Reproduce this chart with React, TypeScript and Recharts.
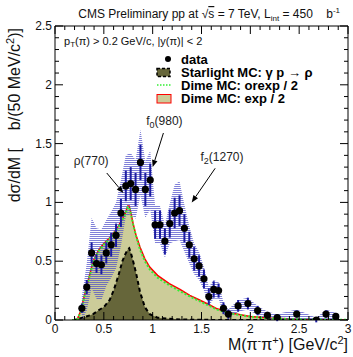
import React from "react";
import {
  ComposedChart,
  XAxis,
  YAxis,
  Area,
  Line,
  Scatter,
  ErrorBar,
  ReferenceLine,
  ReferenceDot,
} from "recharts";

const FONT = "'Liberation Sans', Arial, Helvetica, sans-serif";

// ---- measured data (dσ/dM, μb per 50 MeV) ----
const dataMass = [0.275, 0.325, 0.375, 0.425, 0.475, 0.525, 0.575, 0.625, 0.675, 0.725, 0.775, 0.825, 0.875, 0.925, 0.975, 1.025, 1.075, 1.125, 1.175, 1.225, 1.275, 1.325, 1.375, 1.425, 1.475, 1.525, 1.575, 1.625, 1.675, 1.725, 1.775, 1.875, 1.975, 2.075, 2.175, 2.275, 2.475, 2.675, 2.775, 2.875];
const dataValue = [0.10, 0.28, 0.57, 0.48, 0.47, 0.57, 0.64, 0.72, 0.91, 1.14, 1.16, 1.11, 1.34, 1.11, 1.19, 0.81, 0.81, 0.67, 0.82, 0.91, 0.93, 0.78, 0.64, 0.52, 0.46, 0.35, 0.20, 0.26, 0.25, 0.10, 0.05, 0.12, 0.14, 0.08, 0.04, 0.02, 0.05, 0.0, 0.05, 0.03];
const statError = [0.04, 0.06, 0.09, 0.08, 0.08, 0.09, 0.10, 0.10, 0.12, 0.13, 0.14, 0.14, 0.15, 0.14, 0.14, 0.12, 0.12, 0.11, 0.12, 0.13, 0.13, 0.12, 0.11, 0.10, 0.09, 0.08, 0.07, 0.07, 0.06, 0.05, 0.04, 0.05, 0.05, 0.04, 0.03, 0.03, 0.03, 0.02, 0.03, 0.03];
const systError = [0.10, 0.20, 0.30, 0.30, 0.30, 0.28, 0.28, 0.28, 0.28, 0.26, 0.26, 0.25, 0.28, 0.24, 0.25, 0.16, 0.16, 0.14, 0.17, 0.24, 0.25, 0.20, 0.16, 0.13, 0.12, 0.10, 0.08, 0.08, 0.07, 0.05, 0.04, 0.05, 0.05, 0.04, 0.03, 0.03, 0.04, 0.02, 0.04, 0.03];

// ---- MC predictions ----
const mcMass = [0.18, 0.20, 0.23, 0.26, 0.29, 0.32, 0.36, 0.39, 0.45, 0.50, 0.56, 0.60, 0.65, 0.69, 0.72, 0.745, 0.76, 0.78, 0.80, 0.83, 0.87, 0.92, 0.97, 1.05, 1.17, 1.28, 1.38, 1.48, 1.58, 1.66, 1.80, 2.00, 2.20, 2.50, 2.80, 3.00];
const starlight = [0, 0, 0.008, 0.015, 0.02, 0.03, 0.04, 0.05, 0.085, 0.11, 0.17, 0.25, 0.38, 0.50, 0.56, 0.60, 0.61, 0.56, 0.50, 0.40, 0.24, 0.11, 0.05, 0.02, 0.01, 0.005, 0.003, 0.002, 0.001, 0, 0, 0, 0, 0, 0, 0];
const dimeOrexp = [0, 0, 0.01, 0.06, 0.16, 0.26, 0.39, 0.49, 0.59, 0.64, 0.69, 0.73, 0.79, 0.85, 0.90, 0.96, 0.96, 0.89, 0.81, 0.71, 0.60, 0.50, 0.43, 0.36, 0.295, 0.245, 0.20, 0.16, 0.12, 0.088, 0.055, 0.028, 0.014, 0.005, 0.002, 0.001];
const dimeExp = [0, 0, 0.01, 0.07, 0.17, 0.27, 0.40, 0.50, 0.60, 0.65, 0.70, 0.74, 0.80, 0.86, 0.91, 0.97, 0.97, 0.90, 0.82, 0.72, 0.62, 0.52, 0.45, 0.38, 0.31, 0.26, 0.21, 0.17, 0.13, 0.095, 0.06, 0.03, 0.016, 0.006, 0.002, 0.001];

// ---- axes ----
const xTicks = [0, 0.1, 0.2, 0.3, 0.4, 0.5, 0.6, 0.7, 0.8, 0.9, 1, 1.1, 1.2, 1.3, 1.4, 1.5, 1.6, 1.7, 1.8, 1.9, 2, 2.1, 2.2, 2.3, 2.4, 2.5, 2.6, 2.7, 2.8, 2.9, 3];
const yTicks = [0, 0.1, 0.2, 0.3, 0.4, 0.5, 0.6, 0.7, 0.8, 0.9, 1, 1.1, 1.2, 1.3, 1.4, 1.5, 1.6, 1.7, 1.8, 1.9, 2, 2.1, 2.2, 2.3, 2.4, 2.5];

// ---- annotations (data coordinates) ----
const annotationNames = ["ρ", "f", "f"];
const annotationSubs = ["", "0", "2"];
const annotationMasses = ["(770)", "(980)", "(1270)"];
const annotationTextPos = [
  { x: 0.37, y: 1.32 },
  { x: 1.12, y: 1.66 },
  { x: 1.71, y: 1.35 },
];
const annotationArrows = [
  [{ x: 0.53, y: 1.25 }, { x: 0.70, y: 1.08 }],
  [{ x: 1.11, y: 1.59 }, { x: 1.0, y: 1.30 }],
  [{ x: 1.64, y: 1.29 }, { x: 1.40, y: 1.0 }],
];

const points = dataMass.map((m, i) => ({ m, v: dataValue[i], err: statError[i] }));
const band = dataMass.map((m, i) => ({
  m,
  band: [Math.max(0, dataValue[i] - systError[i]), dataValue[i] + systError[i]],
}));
const mc = mcMass.map((m, i) => ({ m, sl: starlight[i], orexp: dimeOrexp[i], exp: dimeExp[i] }));

const MAJ = 8;
const MIN = 4;
const isMajor = (v: number) => Math.abs(v * 2 - Math.round(v * 2)) < 1e-6;
const fmt = (v: number) => String(Math.round(v * 10) / 10);

const BottomTick = (props: any) => {
  const { x, y, payload } = props;
  const v = payload.value;
  const axisY = y - 4;
  const major = isMajor(v);
  return (
    <g>
      <line x1={x} x2={x} y1={axisY} y2={axisY - (major ? MAJ : MIN)} stroke="#000" />
      {major && (
        <text x={x} y={axisY + 12.5} textAnchor="middle" fontSize={12} fontFamily={FONT} fill="#111">
          {fmt(v)}
        </text>
      )}
    </g>
  );
};
const TopTick = (props: any) => {
  const { x, y, payload } = props;
  const major = isMajor(payload.value);
  return <line x1={x} x2={x} y1={y} y2={y + (major ? MAJ : MIN)} stroke="#000" />;
};
const LeftTick = (props: any) => {
  const { x, y, payload } = props;
  const v = payload.value;
  const axisX = x + 3;
  const major = isMajor(v);
  return (
    <g>
      <line x1={axisX} x2={axisX + (major ? MAJ : MIN)} y1={y} y2={y} stroke="#000" />
      {major && (
        <text x={axisX - 3} y={y + 4} textAnchor="end" fontSize={12} fontFamily={FONT} fill="#111">
          {fmt(v)}
        </text>
      )}
    </g>
  );
};
const RightTick = (props: any) => {
  const { x, y, payload } = props;
  const major = isMajor(payload.value);
  return <line x1={x} x2={x - (major ? MAJ : MIN)} y1={y} y2={y} stroke="#000" />;
};

const Dot = (p: any) => <circle cx={p.cx} cy={p.cy} r={3.6} fill="#000" />;

const Arrow = (p: any) => {
  const { x1, y1, x2, y2 } = p;
  const dx = x2 - x1;
  const dy = y2 - y1;
  const len = Math.sqrt(dx * dx + dy * dy) || 1;
  const ux = dx / len;
  const uy = dy / len;
  const hl = 7;
  const hw = 2.8;
  const bx = x2 - ux * hl;
  const by = y2 - uy * hl;
  return (
    <g>
      <line x1={x1} y1={y1} x2={bx} y2={by} stroke="#000" strokeWidth={1} />
      <polygon
        points={`${x2},${y2} ${bx - uy * hw},${by + ux * hw} ${bx + uy * hw},${by - ux * hw}`}
        fill="#000"
      />
    </g>
  );
};

const makeLabel = (i: number) => (p: any) => (
  <text x={p.cx} y={p.cy} textAnchor="middle" fontSize={12} fontFamily={FONT} fill="#222">
    {annotationNames[i]}
    {annotationSubs[i] && (
      <tspan fontSize={9} dy={3}>
        {annotationSubs[i]}
      </tspan>
    )}
    <tspan dy={annotationSubs[i] ? -3 : 0}>{annotationMasses[i]}</tspan>
  </text>
);

const legendItems = ["data", "Starlight MC: γ p → ρ", "Dime MC: orexp / 2", "Dime MC: exp / 2"];

export default function App() {
  const ax = { xAxisId: "b", yAxisId: "l" };
  return (
    <div style={{ position: "absolute", left: 0, top: 0, width: 353, height: 357, background: "#fff" }}>
      <ComposedChart width={353} height={357} margin={{ top: 25, right: 4, bottom: 7, left: 5 }}>
        <defs>
          <pattern id="hatch" patternUnits="userSpaceOnUse" width={4} height={2}>
            <rect x={0} y={0} width={4} height={1} fill="#4a4ac8" fillOpacity={0.7} />
          </pattern>
        </defs>
        <XAxis
          xAxisId="b"
          dataKey="m"
          type="number"
          domain={[0, 3]}
          ticks={xTicks}
          interval={0}
          tickSize={0}
          tickMargin={4}
          tick={BottomTick}
          tickLine={false}
          height={30}
          axisLine={{ stroke: "#000" }}
          allowDataOverflow
        />
        <XAxis
          xAxisId="t"
          orientation="top"
          dataKey="m"
          type="number"
          domain={[0, 3]}
          ticks={xTicks}
          interval={0}
          tickSize={0}
          tickMargin={0}
          tick={TopTick}
          tickLine={false}
          height={1}
          axisLine={{ stroke: "#000" }}
          allowDataOverflow
        />
        <YAxis
          yAxisId="l"
          type="number"
          domain={[0, 2.5]}
          ticks={yTicks}
          interval={0}
          tickSize={0}
          tickMargin={3}
          tick={LeftTick}
          tickLine={false}
          width={50}
          axisLine={{ stroke: "#000" }}
          allowDataOverflow
        />
        <YAxis
          yAxisId="r"
          orientation="right"
          type="number"
          domain={[0, 2.5]}
          ticks={yTicks}
          interval={0}
          tickSize={0}
          tickMargin={0}
          tick={RightTick}
          tickLine={false}
          width={1}
          axisLine={{ stroke: "#000" }}
          allowDataOverflow
        />
        <Area {...ax} data={mc} dataKey="exp" type="linear" fill="#cccc99" fillOpacity={1} stroke="#ff0000" strokeWidth={1.5} isAnimationActive={false} />
        <Area {...ax} data={mc} dataKey="sl" type="linear" fill="#66663a" fillOpacity={1} stroke="#000" strokeWidth={2} strokeDasharray="4 3" isAnimationActive={false} />
        <Line {...ax} data={mc} dataKey="orexp" type="linear" stroke="#33ee33" strokeWidth={2} strokeDasharray="2 2" dot={false} isAnimationActive={false} />
        <Area {...ax} data={band} dataKey="band" type="linear" fill="url(#hatch)" fillOpacity={1} stroke="none" isAnimationActive={false} />
        <Scatter {...ax} data={points} dataKey="v" shape={Dot} isAnimationActive={false}>
          <ErrorBar dataKey="err" direction="y" width={0} stroke="#1c1ca0" strokeWidth={2} />
        </Scatter>
        {annotationArrows.map((seg, i) => (
          <ReferenceLine key={"a" + i} {...ax} segment={seg} shape={Arrow} ifOverflow="visible" />
        ))}
        {annotationTextPos.map((p, i) => (
          <ReferenceDot key={"t" + i} {...ax} x={p.x} y={p.y} r={0} shape={makeLabel(i)} ifOverflow="visible" />
        ))}
      </ComposedChart>
      <svg
        width={353}
        height={357}
        style={{ position: "absolute", left: 0, top: 0, pointerEvents: "none" }}
        fontFamily={FONT}
      >
        <text x={340} y={18} textAnchor="end" fontSize={12} fill="#111">
          {"CMS Preliminary pp at √"}
          <tspan textDecoration="overline">s</tspan>
          {" = 7 TeV, L"}
          <tspan fontSize={8} dy={3}>int</tspan>
          <tspan dy={-3}>{" = 450 \u00a0\u00a0\u00a0b"}</tspan>
          <tspan fontSize={8} dy={-5}>-1</tspan>
        </text>
        <text x={64} y={45} fontSize={11} fill="#111">
          p<tspan fontSize={8} dy={2}>T</tspan>
          <tspan dy={-2}>(π) &gt; 0.2 GeV/c, |y(π)| &lt; 2</tspan>
        </text>
        <g fontSize={13} fontWeight="bold" fill="#000">
          <circle cx={168} cy={59} r={3} fill="#000" />
          <text x={181} y={64}>{legendItems[0]}</text>
          <rect x={157} y={68.5} width={13} height={8} fill="#66663a" stroke="#000" strokeWidth={1.5} strokeDasharray="3 2" />
          <text x={181} y={77}>{legendItems[1]}</text>
          <line x1={157} x2={171} y1={85} y2={85} stroke="#33ee33" strokeWidth={1.5} strokeDasharray="1.5 1.5" />
          <text x={181} y={89.5}>{legendItems[2]}</text>
          <rect x={157} y={94.5} width={14} height={8.5} fill="#cccc99" stroke="#ff0000" strokeWidth={1} />
          <text x={181} y={102.5}>{legendItems[3]}</text>
        </g>
        <text transform="translate(20,28) rotate(-90)" textAnchor="end" fontSize={16} fill="#111">
          {"dσ/dM [ \u00a0\u00a0\u00a0b/(50 MeV/c"}
          <tspan fontSize={11} dy={-6}>2</tspan>
          <tspan dy={6}>)]</tspan>
        </text>
        <text x={348} y={350} textAnchor="end" fontSize={16} fill="#111">
          M(π<tspan fontSize={11} dy={-6}>-</tspan>
          <tspan dy={6}>π</tspan>
          <tspan fontSize={11} dy={-6}>+</tspan>
          <tspan dy={6}>) [GeV/c</tspan>
          <tspan fontSize={11} dy={-6}>2</tspan>
          <tspan dy={6}>]</tspan>
        </text>
      </svg>
    </div>
  );
}
